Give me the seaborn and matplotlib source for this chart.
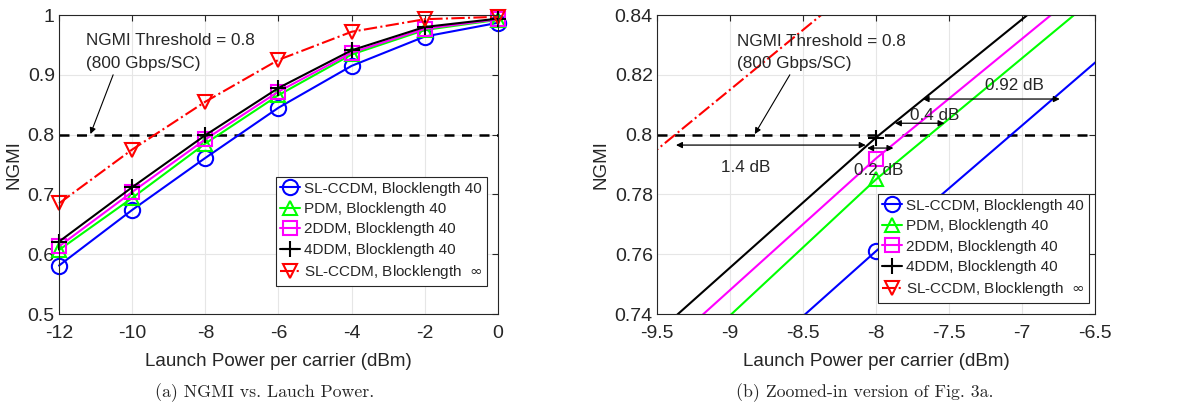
import numpy as np
import pandas as pd
import seaborn as sns
import matplotlib
matplotlib.use("Agg")
import matplotlib.pyplot as plt

# launch power per carrier (dBm)
power = [-12, -10, -8, -6, -4, -2, 0]

# NGMI per scheme
ngmi_slccdm_40 = [0.581, 0.674, 0.761, 0.845, 0.915, 0.964, 0.987]
ngmi_pdm_40 = [0.607, 0.694, 0.785, 0.866, 0.934, 0.975, 0.992]
ngmi_2ddm_40 = [0.613, 0.704, 0.792, 0.872, 0.937, 0.977, 0.993]
ngmi_4ddm_40 = [0.621, 0.712, 0.799, 0.878, 0.941, 0.980, 0.994]
ngmi_slccdm_inf = [0.685, 0.775, 0.855, 0.925, 0.972, 0.993, 0.997]

labels = [
    "SL-CCDM, Blocklength 40",
    "PDM, Blocklength 40",
    "2DDM, Blocklength 40",
    "4DDM, Blocklength 40",
    "SL-CCDM, Blocklength  $\\infty$",
]
threshold = 0.8

# (x_start, x_end, y, label, label_x, label_y) for the gap arrows in panel b
gaps = [
    (-9.37, -8.07, 0.7965, "1.4 dB", -8.89, 0.789),
    (-8.06, -7.88, 0.7955, "0.2 dB", -7.98, 0.788),
    (-7.87, -7.53, 0.8038, "0.4 dB", -7.60, 0.8065),
    (-7.68, -6.74, 0.8119, "0.92 dB", -7.05, 0.8163),
]

df = pd.DataFrame({"power": power})
for lab, vals in zip(labels, [ngmi_slccdm_40, ngmi_pdm_40, ngmi_2ddm_40,
                              ngmi_4ddm_40, ngmi_slccdm_inf]):
    df[lab] = vals

styles = [
    dict(color="#0000ff", marker="o", ls="-"),
    dict(color="#00ff00", marker="^", ls="-"),
    dict(color="#ff00ff", marker="s", ls="-"),
    dict(color="#000000", marker="+", ls="-"),
    dict(color="#ff0000", marker="v", ls="-."),
]

sns.set_style("white")
plt.rcParams["font.family"] = ["Liberation Sans", "DejaVu Sans"]
plt.rcParams["axes.edgecolor"] = "#262626"

fig = plt.figure(figsize=(11.8, 4.07), dpi=100)
ax1 = fig.add_axes([0.050, 0.2285, 0.372, 0.7346])
ax2 = fig.add_axes([0.5568, 0.2285, 0.371, 0.7346])


def draw_curves(ax, clip=True):
    for lab, st in zip(labels, styles):
        msize = 11 if st["marker"] in ("o", "+") else 10
        sns.lineplot(
            data=df, x="power", y=lab, ax=ax, color=st["color"],
            linestyle=st["ls"], linewidth=1.5, marker=st["marker"],
            markersize=msize, markerfacecolor="none",
            markeredgecolor=st["color"], markeredgewidth=1.5, label=lab,
            clip_on=clip,
        )
    ax.axhline(threshold, color="black", linestyle=(0, (4, 3)), linewidth=1.8,
               zorder=1)


def style_axes(ax, xlim, ylim, xticks, yticks):
    ax.set_xlim(*xlim)
    ax.set_ylim(*ylim)
    ax.set_xticks(xticks)
    ax.set_yticks(yticks)
    ax.set_xticklabels([f"{v:g}" for v in xticks], fontsize=14)
    ax.set_yticklabels([f"{v:g}" for v in yticks], fontsize=14)
    ax.grid(True, color="#e6e6e6", linewidth=0.8)
    ax.set_axisbelow(True)
    ax.tick_params(axis="both", direction="in", length=4, top=True,
                   right=True, color="#262626")
    ax.tick_params(axis="x", pad=8)
    ax.tick_params(axis="y", pad=3)
    ax.set_xlabel("Launch Power per carrier (dBm)", fontsize=13.5,
                  labelpad=8)
    ax.set_ylabel("NGMI", fontsize=13.5, labelpad=4)
    for sp in ax.spines.values():
        sp.set_linewidth(0.8)


def add_legend(ax, anchor):
    leg = ax.legend(loc="lower right", bbox_to_anchor=anchor,
                    fontsize=11, frameon=True, fancybox=False, framealpha=1,
                    edgecolor="#262626", borderpad=0.3, labelspacing=0.42,
                    handlelength=1.3, handletextpad=0.25, borderaxespad=0)
    leg.get_frame().set_linewidth(0.8)


# (a) full view
draw_curves(ax1, clip=False)
style_axes(ax1, (-12, 0), (0.5, 1.0), power, [0.5, 0.6, 0.7, 0.8, 0.9, 1.0])
ax1.text(-11.27, 0.957, "NGMI Threshold = 0.8", fontsize=12.3, va="center")
ax1.text(-11.27, 0.919, "(800 Gbps/SC)", fontsize=12.3, va="center")
ax1.annotate("", xy=(-11.14, 0.801), xytext=(-10.52, 0.90),
             arrowprops=dict(arrowstyle="-|>", color="black", lw=0.8,
                             mutation_scale=9, shrinkA=0, shrinkB=0))
add_legend(ax1, (0.975, 0.094))

# (b) zoomed view
draw_curves(ax2)
style_axes(ax2, (-9.5, -6.5), (0.74, 0.84),
           [-9.5, -9, -8.5, -8, -7.5, -7, -6.5],
           [0.74, 0.76, 0.78, 0.8, 0.82, 0.84])
ax2.text(-8.95, 0.8313, "NGMI Threshold = 0.8", fontsize=12.3, va="center")
ax2.text(-8.95, 0.8238, "(800 Gbps/SC)", fontsize=12.3, va="center")
ax2.annotate("", xy=(-8.83, 0.8002), xytext=(-8.59, 0.8200),
             arrowprops=dict(arrowstyle="-|>", color="black", lw=0.8,
                             mutation_scale=9, shrinkA=0, shrinkB=0))
for x0, x1, y, txt, tx, ty in gaps:
    ax2.annotate("", xy=(x1, y), xytext=(x0, y),
                 arrowprops=dict(arrowstyle="<|-|>", color="black", lw=0.9,
                                 mutation_scale=9, shrinkA=0, shrinkB=0))
    ax2.text(tx, ty, txt, fontsize=12.3, ha="center", va="center")
add_legend(ax2, (0.986, 0.037))

# captions
fig.text(265 / 1180, 1 - 393 / 407, "(a) NGMI vs. Lauch Power.",
         ha="center", va="center", fontsize=12.8, family="cmr10")
fig.text(865 / 1180, 1 - 393 / 407, "(b) Zoomed-in version of Fig. 3a.",
         ha="center", va="center", fontsize=12.8, family="cmr10")

fig.savefig("out.png", dpi=100)
